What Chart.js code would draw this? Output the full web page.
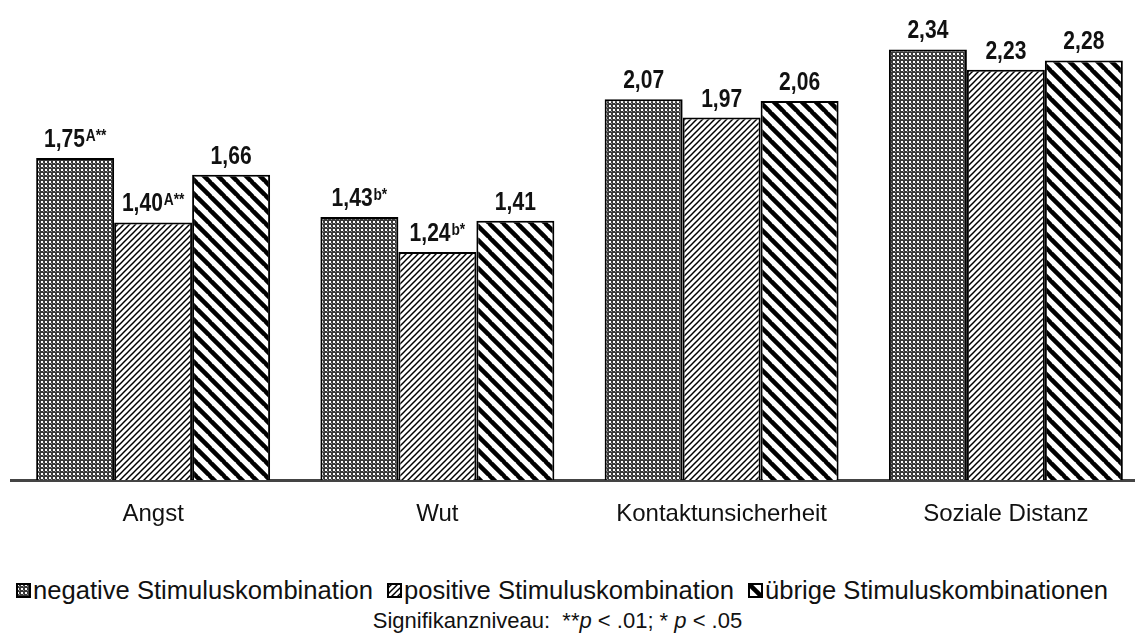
<!DOCTYPE html>
<html>
<head>
<meta charset="utf-8">
<script src="https://cdn.jsdelivr.net/npm/chart.js@4.4.1/dist/chart.umd.min.js"></script>
<style>
  body { margin: 0; background: #fff; width: 1135px; height: 637px; overflow: hidden; position: relative;
         font-family: "Liberation Sans", Arial, sans-serif; color: #111; }
  #wrap { position: absolute; left: 0; top: 0; width: 1150px; height: 549px; }
  #legend { position: absolute; top: 576px; left: 0; width: 1124px; display: flex; justify-content: center;
            align-items: center; font-size: 25.6px; white-space: nowrap; }
  #legend .item { display: flex; align-items: center; margin: 0 7px; }
  #legend canvas { width: 15px; height: 15px; margin-right: 2px; }
  #note { position: absolute; top: 608px; left: 0; width: 1115px; text-align: center; font-size: 22px; white-space: pre; }
</style>
</head>
<body>
<div id="wrap"><canvas id="chart" width="1150" height="549"></canvas></div>
<div id="legend"></div>
<div id="note">Signifikanzniveau:  **<i>p</i> &lt; .01; * <i>p</i> &lt; .05</div>
<script>
// Data
const categories = ['Angst', 'Wut', 'Kontaktunsicherheit', 'Soziale Distanz'];
const seriesNames = ['negative Stimuluskombination', 'positive Stimuluskombination', 'übrige Stimuluskombinationen'];
const negativeValues = [1.75, 1.43, 2.07, 2.34];
const positiveValues = [1.40, 1.24, 1.97, 2.23];
const otherValues = [1.66, 1.41, 2.06, 2.28];
// superscripts shown next to the value labels
const negativeSup = ['A**', 'b*', '', ''];
const positiveSup = ['A**', 'b*', '', ''];
const otherSup = ['', '', '', ''];

// Fill patterns
function makePattern(kind) {
  const c = document.createElement('canvas');
  const x = c.getContext('2d');
  if (kind === 'dots') {
    c.width = 4; c.height = 4;
    x.fillStyle = '#3a3a3a'; x.fillRect(0, 0, 4, 4);
    x.fillStyle = '#fff'; x.fillRect(1, 1, 2, 2);
    x.fillStyle = '#8a8a8a'; x.fillRect(3, 3, 1, 1);
  } else if (kind === 'thin') {
    c.width = 6; c.height = 6;
    x.fillStyle = '#fff'; x.fillRect(0, 0, 6, 6);
    x.strokeStyle = '#000'; x.lineWidth = 1.5;
    [-6, 0, 6].forEach(o => { x.beginPath(); x.moveTo(o - 1, 7); x.lineTo(o + 7, -1); x.stroke(); });
  } else {
    c.width = 14; c.height = 14;
    x.fillStyle = '#fff'; x.fillRect(0, 0, 14, 14);
    x.strokeStyle = '#000'; x.lineWidth = 4.5;
    [-14, 0, 14].forEach(o => { x.beginPath(); x.moveTo(o - 1, -1); x.lineTo(o + 15, 15); x.stroke(); });
  }
  return x.createPattern(c, 'repeat');
}
const kinds = ['dots', 'thin', 'thick'];
const patterns = kinds.map(makePattern);

const mainFont = 'bold 26px "Liberation Sans", Arial, sans-serif';
const supFont = 'bold 17px "Liberation Sans", Arial, sans-serif';
const squeeze = 0.81; // narrow look of the value labels

// value labels with superscripts above bars
const valueLabels = {
  id: 'valueLabels',
  afterDatasetsDraw(chart) {
    const ctx = chart.ctx;
    chart.data.datasets.forEach((ds, i) => {
      chart.getDatasetMeta(i).data.forEach((bar, j) => {
        const main = ds.data[j].toFixed(2).replace('.', ',');
        const sup = ds.sup[j];
        ctx.font = mainFont;
        const w1 = ctx.measureText(main).width;
        ctx.font = supFont;
        const w2 = sup ? ctx.measureText(sup).width + 1 : 0;
        const total = (w1 + w2) * squeeze;
        ctx.save();
        ctx.translate(bar.x - total / 2, bar.y - 11);
        ctx.scale(squeeze, 1);
        ctx.fillStyle = '#111';
        ctx.textBaseline = 'alphabetic';
        ctx.textAlign = 'left';
        ctx.font = mainFont;
        ctx.fillText(main, 0, 0);
        if (sup) {
          ctx.font = supFont;
          ctx.fillText(sup, w1 + 1, -6);
        }
        ctx.restore();
      });
    });
  }
};

const allValues = [negativeValues, positiveValues, otherValues];
const allSup = [negativeSup, positiveSup, otherSup];

new Chart(document.getElementById('chart'), {
  type: 'bar',
  data: {
    labels: categories,
    datasets: seriesNames.map((name, i) => ({
      label: name,
      data: allValues[i],
      sup: allSup[i],
      backgroundColor: patterns[i],
      borderColor: '#000',
      borderWidth: 2,
      borderSkipped: 'bottom',
      categoryPercentage: 0.823,
      barPercentage: 1.0
    }))
  },
  options: {
    responsive: false,
    animation: false,
    layout: { padding: { left: 11, right: 2, top: 20, bottom: 0 } },
    plugins: { legend: { display: false }, tooltip: { enabled: false } },
    scales: {
      x: {
        grid: { display: false, drawTicks: false },
        border: { display: true, color: '#444', width: 3 },
        ticks: { color: '#111', padding: 20, font: { family: '"Liberation Sans", Arial, sans-serif', size: 24 } }
      },
      y: { display: false, min: 0, max: 2.5 }
    }
  },
  plugins: [valueLabels]
});

// legend
const legend = document.getElementById('legend');
seriesNames.forEach((name, i) => {
  const item = document.createElement('div');
  item.className = 'item';
  const sw = document.createElement('canvas');
  sw.width = 15; sw.height = 15;
  const sx = sw.getContext('2d');
  sx.fillStyle = makePattern(kinds[i]);
  sx.fillRect(0, 0, 15, 15);
  sx.strokeStyle = '#000'; sx.lineWidth = 2;
  sx.strokeRect(1, 1, 13, 13);
  item.appendChild(sw);
  const t = document.createElement('span');
  t.textContent = name;
  item.appendChild(t);
  legend.appendChild(item);
});
</script>
</body>
</html>
